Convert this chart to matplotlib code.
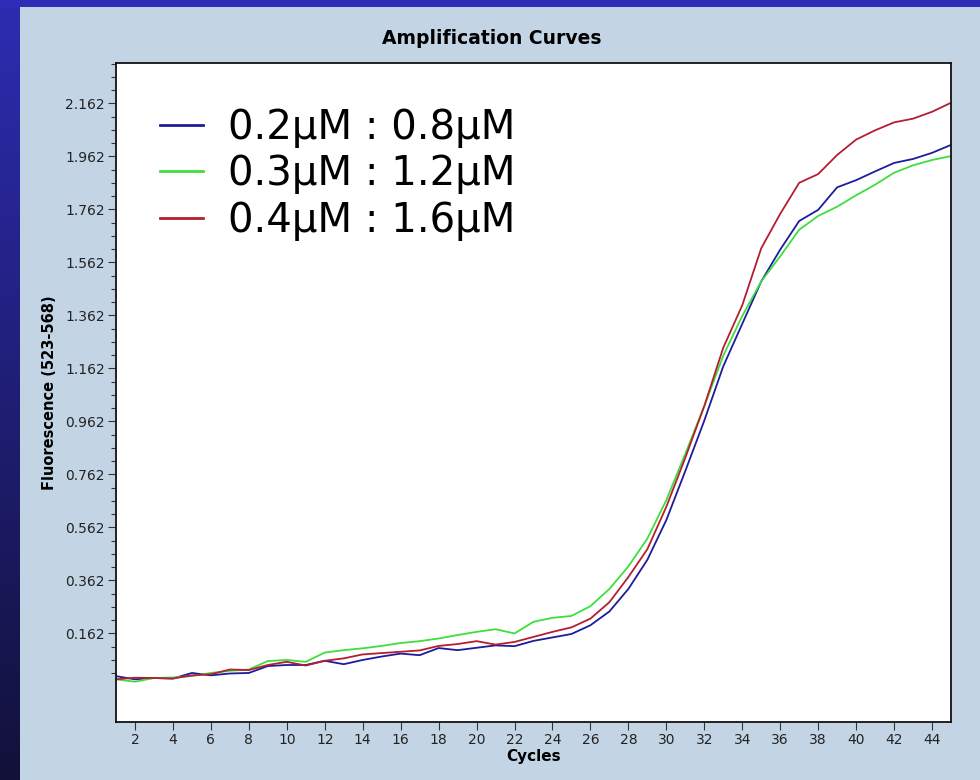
"""
Amplification curves for three primer ratios
"""

import numpy as np
import matplotlib
matplotlib.use("Agg")
from matplotlib import pyplot as plt
from matplotlib.ticker import FixedLocator

cycles = list(range(1, 46))

labels = ["0.2μM : 0.8μM", "0.3μM : 1.2μM", "0.4μM : 1.6μM"]
colors = ["#1c1c9c", "#3ede3e", "#b41e30"]

# fluorescence readings per cycle
blue = [0.001, -0.011, -0.006, -0.008, 0.013, 0.004, 0.011, 0.013, 0.039, 0.043,
        0.043, 0.059, 0.046, 0.062, 0.075, 0.086, 0.080, 0.107, 0.099, 0.108,
        0.117, 0.114, 0.134, 0.147, 0.160, 0.193, 0.245, 0.330, 0.440, 0.590,
        0.775, 0.965, 1.170, 1.330, 1.490, 1.610, 1.718, 1.760, 1.845, 1.872,
        1.905, 1.937, 1.952, 1.975, 2.005]
green = [-0.011, -0.020, -0.006, -0.004, 0.001, 0.013, 0.021, 0.026, 0.058, 0.062,
         0.055, 0.090, 0.099, 0.106, 0.115, 0.126, 0.133, 0.143, 0.156, 0.168,
         0.178, 0.162, 0.206, 0.221, 0.228, 0.265, 0.330, 0.415, 0.520, 0.665,
         0.840, 1.020, 1.210, 1.360, 1.490, 1.585, 1.685, 1.737, 1.772, 1.815,
         1.855, 1.900, 1.928, 1.948, 1.963]
red = [-0.011, -0.005, -0.006, -0.008, 0.004, 0.008, 0.026, 0.024, 0.043, 0.055,
       0.041, 0.059, 0.068, 0.083, 0.088, 0.093, 0.098, 0.115, 0.122, 0.133,
       0.120, 0.130, 0.149, 0.168, 0.185, 0.218, 0.280, 0.375, 0.480, 0.640,
       0.825, 1.020, 1.240, 1.400, 1.615, 1.745, 1.862, 1.895, 1.967, 2.025,
       2.060, 2.090, 2.104, 2.130, 2.164]

y_major = [0.162, 0.362, 0.562, 0.762, 0.962, 1.162, 1.362, 1.562, 1.762, 1.962, 2.162]
x_major = list(range(2, 45, 2))

PANEL = "#c3d5e5"
W, H = 980, 780


def main():
    fig = plt.figure(figsize=(W / 100, H / 100), dpi=100, facecolor=PANEL)

    # blue slide border: top strip and left gradient strip
    top = fig.add_axes([0, 1 - 7 / H, 1, 7 / H])
    top.set_axis_off()
    top.add_patch(plt.Rectangle((0, 0), 1, 1, color="#2f2db6", transform=top.transAxes))

    left = fig.add_axes([0, 0, 20 / W, 1 - 7 / H])
    grad = np.linspace(0, 1, 256).reshape(-1, 1)
    c0 = np.array([0x2d, 0x2c, 0xb0]) / 255
    c1 = np.array([0x12, 0x11, 0x3a]) / 255
    img = c0[None, None, :] * (1 - grad[:, :, None]) + c1[None, None, :] * grad[:, :, None]
    left.imshow(img, aspect="auto", extent=[0, 1, 0, 1])
    left.set_axis_off()

    ax = fig.add_axes([116 / W, 58 / H, 835 / W, 659 / H])
    ax.set_facecolor("white")

    for ys, col, lab in zip([blue, green, red], colors, labels):
        ax.plot(cycles, ys, color=col, lw=1.3, label=lab)

    ax.set_xlim(1, 45)
    ax.set_ylim(-0.172, 2.314)

    ax.xaxis.set_major_locator(FixedLocator(x_major))
    ax.yaxis.set_major_locator(FixedLocator(y_major))
    minors = [v for v in np.arange(0.012, 2.32, 0.05) if min(abs(v - m) for m in y_major) > 0.01]
    ax.yaxis.set_minor_locator(FixedLocator(minors))
    ax.set_yticklabels([f"{v:.3f}" for v in y_major])

    ax.tick_params(axis="both", which="major", direction="out", length=6, width=0.8,
                   color="#333333", labelsize=10, labelcolor="#222222", pad=2)
    ax.tick_params(axis="y", which="minor", direction="out", length=3.5, width=0.8, color="#333333")
    for s in ax.spines.values():
        s.set_linewidth(1.3)
        s.set_color("#111111")

    ax.set_xlabel("Cycles", fontsize=11, fontweight="bold", labelpad=1)
    ax.set_ylabel("Fluorescence (523-568)", fontsize=10.5, fontweight="bold", labelpad=6)

    fig.text(492 / W, 1 - 38 / H, "Amplification Curves", ha="center", va="center",
             fontsize=13.5, fontweight="bold")

    leg = ax.legend(loc="upper left", bbox_to_anchor=(44 / 835, 1 - 45 / 659), frameon=False,
                    fontsize=29, handlelength=1.07, handletextpad=0.62, labelspacing=0.16,
                    borderaxespad=0, borderpad=0)
    for h in leg.get_lines():
        h.set_linewidth(2)

    fig.savefig("out.png", dpi=100, facecolor=PANEL)


if __name__ == "__main__":
    main()
